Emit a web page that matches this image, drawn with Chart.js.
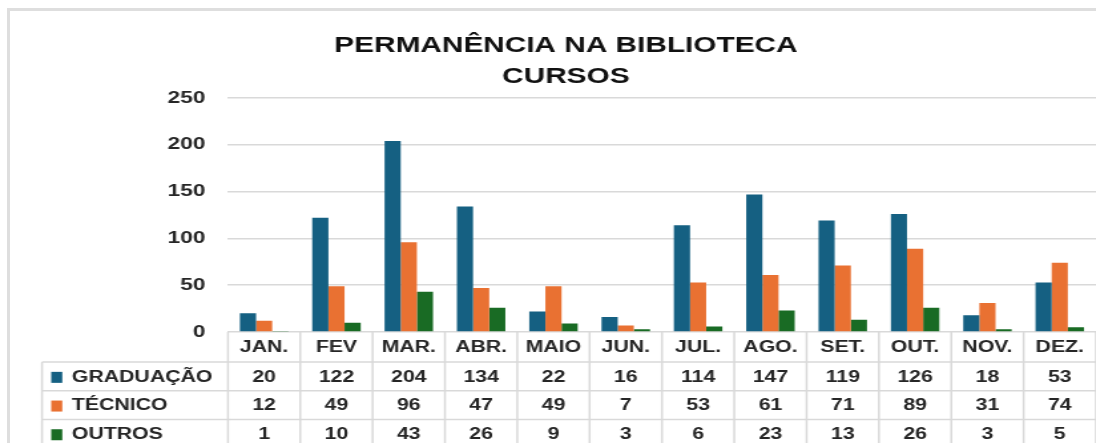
<!DOCTYPE html>
<html>
<head>
<meta charset="utf-8">
<script src="https://cdn.jsdelivr.net/npm/chart.js@4/dist/chart.umd.min.js"></script>
<style>
body{margin:0;background:#fff;overflow:hidden}
#moldura{position:absolute;left:7px;top:8px;width:1200px;height:600px;border:3px solid #dedede}
#caixa{position:absolute;left:0;top:0;width:824px;height:443px;transform:scaleX(1.33);transform-origin:0 0}
</style>
</head>
<body>
<div id="moldura"></div>
<div id="caixa"><canvas id="grafico"></canvas></div>
<script>
const meses=["JAN.","FEV","MAR.","ABR.","MAIO","JUN.","JUL.","AGO.","SET.","OUT.","NOV.","DEZ."]
const graduacao=[20,122,204,134,22,16,114,147,119,126,18,53]
const tecnico=[12,49,96,47,49,7,53,61,71,89,31,74]
const outros=[1,10,43,26,9,3,6,23,13,26,3,5]
const nomesSeries=["GRADUAÇÃO","TÉCNICO","OUTROS"]
const cores=["#156082","#e97132","#196b24"]
const ticksY=[0,50,100,150,200,250]

const fonte="'Liberation Sans', Arial, sans-serif"
const corTexto="#262626"
const corGrade="#d9d9d9"

// tabela de dados embaixo do grafico (como no Excel)
const tabela={
id:"tabela",
afterDraw(chart){

const ctx=chart.ctx
const x=chart.scales.x
const area=chart.chartArea
const fim=chart.height
const esquerdaTabela=31.6
const alturaCab=30
const alturaLinha=28.7

let linhas=[area.bottom+alturaCab]
for(let i=1;i<nomesSeries.length;i++) linhas.push(linhas[0]+i*alturaLinha)

ctx.save()
ctx.strokeStyle=corGrade
ctx.lineWidth=1.5
ctx.beginPath()

for(let i=0;i<=meses.length;i++){
let px=x.getPixelForValue(i-0.5)
ctx.moveTo(px,area.bottom)
ctx.lineTo(px,fim)
}

ctx.moveTo(esquerdaTabela,linhas[0])
ctx.lineTo(esquerdaTabela,fim)

linhas.forEach(y=>{
ctx.moveTo(esquerdaTabela,y)
ctx.lineTo(area.right,y)
})
ctx.stroke()

ctx.font="bold 16px "+fonte
ctx.fillStyle=corTexto
ctx.textAlign="center"
ctx.textBaseline="middle"

meses.forEach((m,i)=>{
ctx.fillText(m,x.getPixelForValue(i),area.bottom+alturaCab/2+1)
})

chart.data.datasets.forEach((ds,s)=>{
let cy=linhas[s]+alturaLinha/2+1
ctx.fillStyle=ds.backgroundColor
ctx.fillRect(38.5,cy-5.5,8.3,11)
ctx.fillStyle=corTexto
ctx.textAlign="left"
ctx.fillText(ds.label,54,cy)
ctx.textAlign="center"
ds.data.forEach((v,i)=>{
ctx.fillText(v,x.getPixelForValue(i),cy)
})
})

ctx.restore()
}
}

new Chart(document.getElementById("grafico"),{

type:"bar",

data:{
labels:meses,
datasets:[
{label:nomesSeries[0],data:graduacao,backgroundColor:cores[0]},
{label:nomesSeries[1],data:tecnico,backgroundColor:cores[1]},
{label:nomesSeries[2],data:outros,backgroundColor:cores[2]}
]
},

options:{
responsive:true,
maintainAspectRatio:false,
animation:false,
layout:{padding:{left:27,right:0,top:0,bottom:111}},
datasets:{bar:{categoryPercentage:0.67,barPercentage:1,borderWidth:0}},
plugins:{
legend:{display:false},
tooltip:{enabled:false},
title:{
display:true,
text:["PERMANÊNCIA NA BIBLIOTECA","CURSOS"],
color:"#111",
font:{family:fonte,weight:"bold",size:22.4,lineHeight:31/22.4},
padding:{top:30,bottom:6}
}
},
scales:{
x:{display:false},
y:{
min:ticksY[0],
max:ticksY[ticksY.length-1],
afterBuildTicks(scale){scale.ticks=ticksY.map(v=>({value:v}))},
afterFit(scale){scale.width=144.4},
border:{display:false},
grid:{color:corGrade,lineWidth:1.5,drawTicks:false},
ticks:{
padding:17,
color:corTexto,
font:{family:fonte,weight:"bold",size:17}
}
}
}
},

plugins:[tabela]

})
</script>
</body>
</html>
